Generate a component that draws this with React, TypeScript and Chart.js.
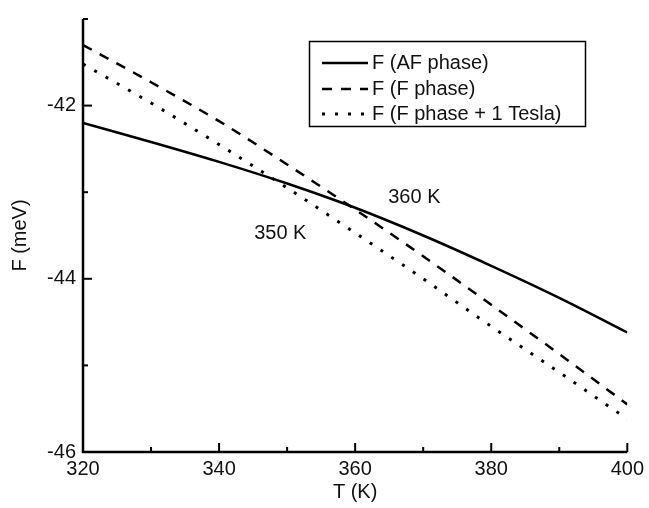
import React, { useEffect, useRef } from "react";
import { Chart, registerables } from "chart.js";

Chart.register(...registerables);

const temps = [320, 330, 340, 350, 360, 370, 380, 390, 400];
const afPhase = [-42.2, -42.42, -42.65, -42.9, -43.18, -43.5, -43.85, -44.22, -44.62];
const fPhase = [-41.3, -41.73, -42.18, -42.68, -43.2, -43.74, -44.3, -44.87, -45.45];
const fPhaseTesla = [-41.52, -41.97, -42.45, -42.95, -43.47, -44.0, -44.55, -45.08, -45.62];

const seriesNames = ["F (AF phase)", "F (F phase)", "F (F phase + 1 Tesla)"];
const annotations = [
  { text: "360 K", x: 368.7, y: -43.06 },
  { text: "350 K", x: 349, y: -43.48 },
];

const FONT = "'Liberation Sans', Arial, sans-serif";
const dashes = [[], [10, 9], [3, 10]];

const axesPlugin = {
  id: "axesPlugin",
  afterDraw(chart: any) {
    const { ctx, chartArea, scales } = chart;
    const xs = scales.x;
    const ys = scales.y;
    ctx.save();
    ctx.strokeStyle = "#000";
    ctx.lineWidth = 2.5;
    ctx.lineCap = "butt";
    ctx.beginPath();
    ctx.moveTo(chartArea.left, chartArea.top);
    ctx.lineTo(chartArea.left, chartArea.bottom);
    ctx.lineTo(chartArea.right, chartArea.bottom);
    ctx.stroke();
    ctx.lineWidth = 2;
    for (let v = 320; v <= 400; v += 10) {
      const px = xs.getPixelForValue(v);
      const len = v % 20 === 0 ? 9 : 5;
      ctx.beginPath();
      ctx.moveTo(px, chartArea.bottom);
      ctx.lineTo(px, chartArea.bottom - len);
      ctx.stroke();
    }
    for (let v = -46; v <= -41; v += 1) {
      const py = ys.getPixelForValue(v);
      const len = v % 2 === 0 ? 9 : 5;
      ctx.beginPath();
      ctx.moveTo(chartArea.left, py);
      ctx.lineTo(chartArea.left + len, py);
      ctx.stroke();
    }
    ctx.fillStyle = "#111";
    ctx.font = `20px ${FONT}`;
    ctx.textAlign = "center";
    ctx.textBaseline = "middle";
    annotations.forEach((a) => {
      ctx.fillText(a.text, xs.getPixelForValue(a.x), ys.getPixelForValue(a.y));
    });
    const bx = 309, by = 41, bw = 276, bh = 85;
    ctx.lineWidth = 1.5;
    ctx.strokeRect(bx + 0.5, by + 0.5, bw, bh);
    const rows = [63, 89, 114];
    seriesNames.forEach((name, i) => {
      ctx.save();
      ctx.lineWidth = i === 2 ? 3 : 2.5;
      ctx.setLineDash(dashes[i]);
      ctx.beginPath();
      ctx.moveTo(322, rows[i]);
      ctx.lineTo(368, rows[i]);
      ctx.stroke();
      ctx.restore();
      ctx.textAlign = "left";
      ctx.fillText(name, 372, rows[i]);
    });
    ctx.restore();
  },
};

export default function App() {
  const ref = useRef<HTMLCanvasElement | null>(null);
  useEffect(() => {
    if (!ref.current) return;
    const mk = (vals: number[]) => temps.map((t, i) => ({ x: t, y: vals[i] }));
    const allSeries = [afPhase, fPhase, fPhaseTesla];
    const chart = new Chart(ref.current, {
      type: "line",
      data: {
        datasets: allSeries.map((s, i) => ({
          label: seriesNames[i],
          data: mk(s),
          borderColor: "#000",
          borderWidth: i === 2 ? 3 : 2.5,
          borderDash: dashes[i],
          borderCapStyle: "butt",
          pointRadius: 0,
          fill: false,
          cubicInterpolationMode: "monotone",
        })),
      },
      options: {
        responsive: false,
        animation: false,
        layout: { padding: { left: 0, top: 11, right: 17, bottom: 0 } },
        plugins: { legend: { display: false }, tooltip: { enabled: false } },
        scales: {
          x: {
            type: "linear",
            min: 320,
            max: 400,
            grid: { display: false, drawTicks: false },
            border: { display: false },
            ticks: {
              stepSize: 10,
              autoSkip: false,
              maxRotation: 0,
              padding: 5,
              color: "#111",
              font: { family: FONT, size: 20 },
              callback: (v: any) => (Number(v) % 20 === 0 ? String(v) : ""),
            },
            title: {
              display: true,
              text: "T (K)",
              color: "#111",
              font: { family: FONT, size: 20 },
              padding: { top: 0, bottom: 4 },
            },
            afterFit: (s: any) => {
              s.height = 56;
            },
          },
          y: {
            min: -46,
            max: -41,
            grid: { display: false, drawTicks: false },
            border: { display: false },
            ticks: {
              stepSize: 1,
              autoSkip: false,
              padding: 7,
              color: "#111",
              font: { family: FONT, size: 20 },
              callback: (v: any) => (Number(v) % 2 === 0 ? String(v) : ""),
            },
            title: {
              display: true,
              text: "F (meV)",
              color: "#111",
              font: { family: FONT, size: 20 },
              padding: { top: 8, bottom: 0 },
            },
            afterFit: (s: any) => {
              s.width = 83;
            },
          },
        },
      },
      plugins: [axesPlugin],
    });
    return () => chart.destroy();
  }, []);
  return (
    <canvas
      ref={ref}
      width={649}
      height={508}
      style={{ position: "fixed", left: 0, top: 0, display: "block" }}
    />
  );
}
